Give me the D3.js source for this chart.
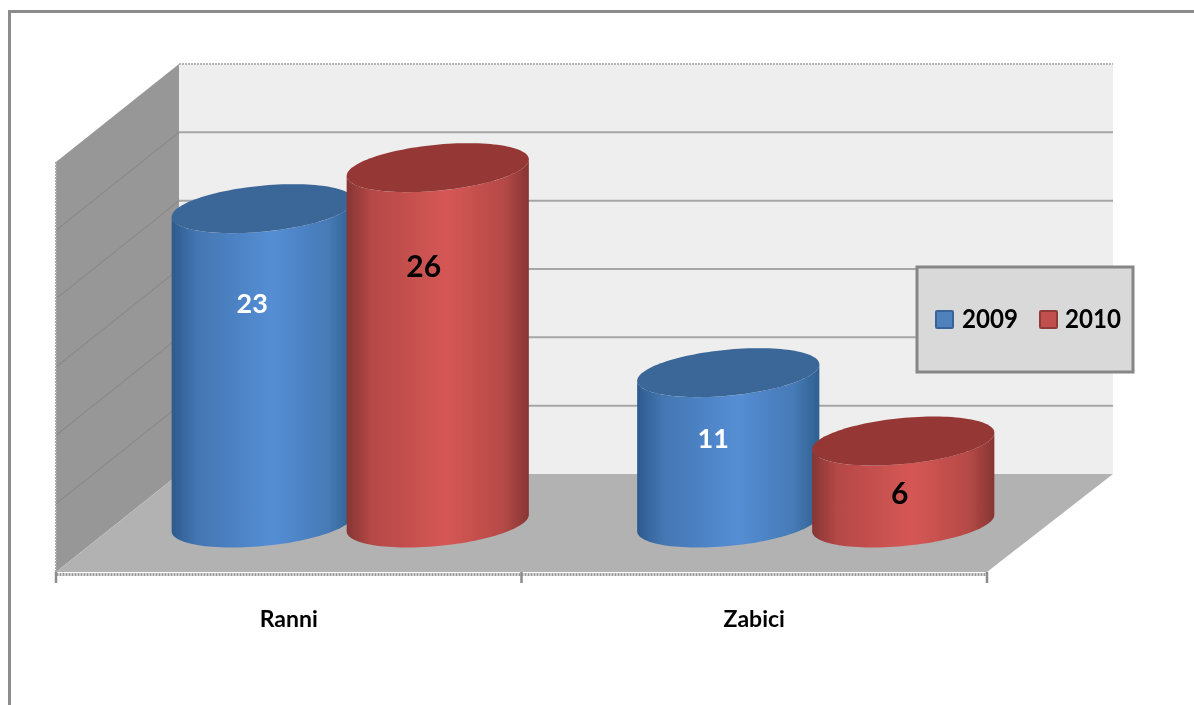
<!DOCTYPE html>
<html>
<head>
<meta charset="utf-8">
<script src="https://cdnjs.cloudflare.com/ajax/libs/d3/7.8.5/d3.min.js"></script>
<style>
html, body { margin: 0; padding: 0; background: #fff; overflow: hidden; }
svg { display: block; }
text { font-family: Lato, "Open Sans", sans-serif; font-weight: 700; }
</style>
</head>
<body>
<script>
// chart data
var categories = ["Ranni", "Zabici"];
var seriesNames = ["2009", "2010"];
var values2009 = [23, 11];
var values2010 = [26, 6];
var yTicks = [0, 5, 10, 15, 20, 25, 30];

var seriesValues = [values2009, values2010];
var labelColors = ["#fff", "#000"];
var gradOffsets = [0, 0.14, 0.55, 0.86, 1];
var sideColors = [
	["#2c5a8e", "#4476b2", "#558ed5", "#467ab6", "#30608f"],
	["#873533", "#b54947", "#d55755", "#b54a47", "#873533"]
];
var topColors = ["#3a6698", "#953735"];
// nudges for the data labels, they are not centred on the cylinders in the original
var labelNudge = [[[-10.5, 95], [-15, 66]], [[-14, 99], [-3.5, 52]]];

var outer = d3.select("body").append("svg")
	.attr("width", 1194)
	.attr("height", 705);

var defs = outer.append("defs");
// the reference is a slightly soft raster
defs.append("filter")
	.attr("id", "soft")
	.attr("x", 0).attr("y", 0).attr("width", "100%").attr("height", "100%")
	.append("feGaussianBlur")
	.attr("stdDeviation", 0.45);

var svg = outer.append("g").attr("filter", "url(#soft)");

// the filter region needs the whole page covered
svg.append("rect")
	.attr("width", 1194)
	.attr("height", 705)
	.attr("fill", "#fff");

// outer frame, runs off the right and bottom of the picture
svg.append("path")
	.attr("d", "M9.5,710V11.5H1200")
	.attr("fill", "none")
	.attr("stroke", "#8c8c8c")
	.attr("stroke-width", 3);

// scales: front of the floor, depth offset goes up and right
var depthX = 123;
var depthY = -98;
var x0 = d3.scaleBand().domain(categories).range([56, 987]);
var x1 = d3.scaleBand().domain(seriesNames).range([0, x0.bandwidth()]).paddingOuter(0.33);
var y = d3.scaleLinear().domain([0, 30]).range([572, 162]);

seriesNames.forEach(function(name, i) {
	var grad = defs.append("linearGradient").attr("id", "side" + i);
	sideColors[i].forEach(function(c, j) {
		grad.append("stop")
			.attr("offset", gradOffsets[j])
			.attr("stop-color", c);
	});
});

// walls and floor
var yMax = y(30);
var y0 = y(0);
var xL = x0.range()[0];
var xR = x0.range()[1];

svg.append("polygon")
	.attr("points", [[xL, yMax], [xL + depthX, yMax + depthY], [xL + depthX, y0 + depthY], [xL, y0]].join(" "))
	.attr("fill", "#979797");
svg.append("rect")
	.attr("x", xL + depthX)
	.attr("y", yMax + depthY)
	.attr("width", xR - xL + 3)
	.attr("height", y0 - yMax)
	.attr("fill", "#eeeeee");
svg.append("polygon")
	.attr("points", [[xL, y0], [xL + depthX, y0 + depthY], [xR + depthX + 3, y0 + depthY], [xR, y0]].join(" "))
	.attr("fill", "#b2b2b2");

// gridlines on both walls
svg.selectAll(".grid-back")
	.data(yTicks.slice(1))
	.enter()
	.append("line")
	.attr("class", "grid-back")
	.attr("x1", xL + depthX)
	.attr("x2", xR + depthX + 3)
	.attr("y1", function(d) { return y(d) + depthY; })
	.attr("y2", function(d) { return y(d) + depthY; })
	.attr("stroke", function(d) { return d == 30 ? "#b5b5b5" : "#a6a6a6"; })
	.attr("stroke-width", 2)
	.attr("stroke-dasharray", function(d) { return d == 30 ? "2,1" : null; });

svg.selectAll(".grid-left")
	.data(yTicks.slice(1, -1))
	.enter()
	.append("line")
	.attr("class", "grid-left")
	.attr("x1", xL)
	.attr("x2", xL + depthX)
	.attr("y1", function(d) { return y(d); })
	.attr("y2", function(d) { return y(d) + depthY; })
	.attr("stroke", "#8a8a8a")
	.attr("stroke-width", 1.2);

// left edge of the wall
svg.append("line")
	.attr("x1", xL).attr("x2", xL)
	.attr("y1", yMax).attr("y2", y0)
	.attr("stroke", "#a8a8a8")
	.attr("stroke-width", 2)
	.attr("stroke-dasharray", "2,1");

// category axis
var axis = svg.append("g")
	.attr("transform", "translate(0," + (y0 + 2) + ")")
	.call(d3.axisBottom(x0).tickSize(0).tickPadding(37));
axis.select(".domain")
	.attr("stroke", "#9a9a9a")
	.attr("stroke-width", 3)
	.attr("stroke-dasharray", "2,1");
axis.selectAll("text")
	.attr("font-size", 23)
	.attr("font-family", null)
	.attr("fill", "#000");

svg.selectAll(".tick-mark")
	.data(categories.map(function(c) { return x0(c); }).concat([xR]))
	.enter()
	.append("line")
	.attr("class", "tick-mark")
	.attr("x1", function(d) { return d; })
	.attr("x2", function(d) { return d; })
	.attr("y1", y0)
	.attr("y2", y0 + 11)
	.attr("stroke", "#8c8c8c")
	.attr("stroke-width", 2.5);

// cylinders
var radiusDepth = 0.25; // share of the depth offset used by the ellipse
var radiusX = x1.bandwidth() * 0.49;
var line = d3.line();

function ellipsePoint(cx, cy, t) {
	return [
		cx + radiusX * Math.cos(t) + depthX * radiusDepth * Math.sin(t),
		cy + depthY * radiusDepth * Math.sin(t)
	];
}

// angle where the ellipse reaches its rightmost x
var tRight = Math.atan2(depthX * radiusDepth, radiusX);

function ellipsePath(cx, cy) {
	return line(d3.range(0, 2 * Math.PI, 0.05).map(function(t) { return ellipsePoint(cx, cy, t); })) + "Z";
}

function sidePath(cx, cyBase, cyTop) {
	// front half of the bottom ellipse, then back along the front half of the top one
	var lowerPts = d3.range(0, 61).map(function(i) {
		return ellipsePoint(cx, cyBase, tRight - Math.PI * i / 60);
	});
	var upperPts = d3.range(0, 61).map(function(i) {
		return ellipsePoint(cx, cyTop, tRight - Math.PI + Math.PI * i / 60);
	});
	return line(lowerPts.concat(upperPts)) + "Z";
}

seriesNames.forEach(function(name, s) {
	categories.forEach(function(cat, c) {
		var v = seriesValues[s][c];
		var cx = x0(cat) + x1(name) + x1.bandwidth() / 2 + depthX / 2;
		var cyBase = y(0) + depthY / 2;
		var cyTop = y(v) + depthY / 2;

		svg.append("path")
			.attr("d", sidePath(cx, cyBase, cyTop))
			.attr("fill", "url(#side" + s + ")");
		svg.append("path")
			.attr("d", ellipsePath(cx, cyTop))
			.attr("fill", topColors[s]);
		svg.append("text")
			.attr("x", cx + labelNudge[s][c][0])
			.attr("y", cyTop + labelNudge[s][c][1])
			.attr("dy", "0.35em")
			.attr("text-anchor", "middle")
			.attr("font-size", s == 0 ? 27 : 30)
			.attr("fill", labelColors[s])
			.text(v);
	});
});

// legend
var legend = svg.append("g").attr("transform", "translate(917,267)");
legend.append("rect")
	.attr("width", 216)
	.attr("height", 105)
	.attr("fill", "#d9d9d9")
	.attr("stroke", "#868686")
	.attr("stroke-width", 3);

var legendFill = ["#4f81bd", "#c0504d"];
var legendEdge = ["#3a6498", "#8f3b38"];
var legendX = d3.scaleOrdinal().domain(seriesNames).range([18, 122]);

seriesNames.forEach(function(name, i) {
	legend.append("rect")
		.attr("x", legendX(name) + 1)
		.attr("y", 44)
		.attr("width", 17)
		.attr("height", 17)
		.attr("rx", 1)
		.attr("fill", legendFill[i])
		.attr("stroke", legendEdge[i])
		.attr("stroke-width", 2);
	legend.append("text")
		.attr("x", legendX(name) + 27 - i)
		.attr("y", 61)
		.attr("font-size", 27)
		.attr("textLength", 56)
		.attr("lengthAdjust", "spacingAndGlyphs")
		.attr("fill", "#000")
		.text(name);
});
</script>
</body>
</html>
